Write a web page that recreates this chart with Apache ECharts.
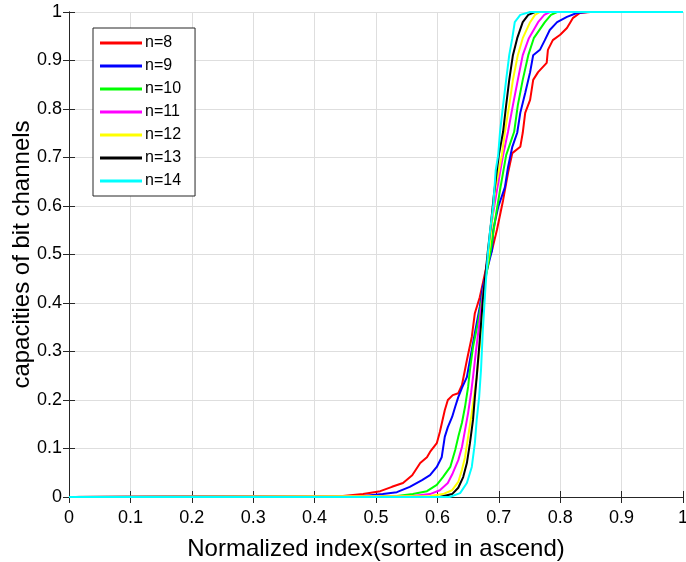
<!DOCTYPE html>
<html>
<head>
<meta charset="utf-8">
<script src="https://cdn.jsdelivr.net/npm/echarts@6/dist/echarts.min.js"></script>
<style>
  html, body { margin: 0; padding: 0; background: #fff; }
  #chart { width: 686px; height: 562px; }
</style>
</head>
<body>
<div id="chart"></div>
<script>
// values (x = normalized index, y = capacity)
var names = ['n=8', 'n=9', 'n=10', 'n=11', 'n=12', 'n=13', 'n=14'];
var colors = ['#ff0000', '#0000ff', '#00ff00', '#ff00ff', '#ffff00', '#000000', '#00ffff'];

var n8X = [0, 0.446, 0.479, 0.507, 0.526, 0.544, 0.559, 0.572, 0.583, 0.588, 0.599, 0.604, 0.612, 0.617, 0.625, 0.634, 0.640, 0.648, 0.656, 0.661, 0.669, 0.674, 0.681, 0.689, 0.697, 0.707, 0.715, 0.722, 0.735, 0.739, 0.743, 0.751, 0.756, 0.764, 0.778, 0.780, 0.788, 0.800, 0.811, 0.821, 0.832, 0.849, 1];
var n8Y = [0, 0.002, 0.006, 0.012, 0.021, 0.029, 0.045, 0.070, 0.082, 0.093, 0.111, 0.134, 0.179, 0.200, 0.210, 0.214, 0.231, 0.282, 0.330, 0.379, 0.412, 0.441, 0.482, 0.509, 0.551, 0.612, 0.668, 0.709, 0.722, 0.751, 0.792, 0.819, 0.860, 0.876, 0.895, 0.922, 0.942, 0.953, 0.967, 0.988, 0.998, 1, 1];

var n9X = [0, 0.479, 0.511, 0.534, 0.555, 0.575, 0.588, 0.599, 0.607, 0.612, 0.617, 0.624, 0.629, 0.634, 0.640, 0.648, 0.656, 0.661, 0.669, 0.674, 0.682, 0.689, 0.691, 0.699, 0.710, 0.715, 0.722, 0.730, 0.735, 0.743, 0.751, 0.756, 0.767, 0.775, 0.783, 0.795, 0.811, 0.827, 0.844, 1];
var n9Y = [0, 0.002, 0.006, 0.010, 0.021, 0.035, 0.045, 0.062, 0.082, 0.124, 0.144, 0.165, 0.186, 0.206, 0.225, 0.247, 0.303, 0.338, 0.392, 0.433, 0.474, 0.509, 0.551, 0.598, 0.639, 0.680, 0.722, 0.751, 0.792, 0.833, 0.876, 0.911, 0.922, 0.942, 0.963, 0.979, 0.990, 0.998, 1, 1];

var n10X = [0, 0.534, 0.560, 0.583, 0.599, 0.609, 0.621, 0.629, 0.634, 0.640, 0.645, 0.650, 0.653, 0.658, 0.666, 0.674, 0.681, 0.687, 0.694, 0.702, 0.712, 0.725, 0.731, 0.739, 0.748, 0.757, 0.775, 0.785, 0.795, 1];
var n10Y = [0, 0.002, 0.006, 0.012, 0.025, 0.041, 0.062, 0.097, 0.124, 0.153, 0.186, 0.227, 0.262, 0.309, 0.359, 0.421, 0.468, 0.509, 0.571, 0.633, 0.705, 0.753, 0.808, 0.860, 0.911, 0.946, 0.979, 0.994, 1, 1];

var n11X = [0, 0.560, 0.588, 0.604, 0.617, 0.625, 0.634, 0.640, 0.645, 0.650, 0.655, 0.658, 0.663, 0.668, 0.673, 0.678, 0.682, 0.689, 0.697, 0.707, 0.715, 0.723, 0.731, 0.739, 0.749, 0.764, 0.774, 0.783, 1];
var n11Y = [0, 0.002, 0.006, 0.014, 0.029, 0.049, 0.076, 0.103, 0.138, 0.173, 0.216, 0.247, 0.303, 0.355, 0.406, 0.454, 0.495, 0.571, 0.633, 0.705, 0.753, 0.808, 0.860, 0.911, 0.946, 0.979, 0.994, 1, 1];

var n12X = [0, 0.588, 0.609, 0.624, 0.634, 0.640, 0.645, 0.650, 0.656, 0.661, 0.664, 0.669, 0.674, 0.679, 0.684, 0.689, 0.694, 0.705, 0.710, 0.717, 0.723, 0.731, 0.739, 0.751, 0.759, 0.767, 1];
var n12Y = [0, 0.002, 0.006, 0.014, 0.031, 0.056, 0.082, 0.124, 0.173, 0.221, 0.247, 0.313, 0.396, 0.458, 0.505, 0.571, 0.633, 0.705, 0.753, 0.808, 0.860, 0.911, 0.946, 0.979, 0.994, 1, 1];

var n13X = [0, 0.604, 0.624, 0.634, 0.642, 0.648, 0.653, 0.658, 0.661, 0.664, 0.669, 0.674, 0.679, 0.682, 0.687, 0.692, 0.700, 0.707, 0.712, 0.717, 0.723, 0.730, 0.739, 0.748, 0.759, 1];
var n13Y = [0, 0, 0.006, 0.019, 0.041, 0.070, 0.111, 0.159, 0.206, 0.247, 0.324, 0.406, 0.468, 0.505, 0.561, 0.623, 0.705, 0.753, 0.808, 0.860, 0.911, 0.946, 0.979, 0.994, 1, 1];

var n14X = [0, 0.620, 0.637, 0.648, 0.656, 0.661, 0.664, 0.668, 0.671, 0.674, 0.678, 0.682, 0.686, 0.691, 0.695, 0.699, 0.702, 0.707, 0.712, 0.717, 0.722, 0.726, 0.735, 0.751, 1];
var n14Y = [0, 0, 0.008, 0.029, 0.062, 0.111, 0.159, 0.206, 0.262, 0.344, 0.427, 0.499, 0.551, 0.602, 0.674, 0.705, 0.753, 0.808, 0.860, 0.911, 0.946, 0.979, 0.994, 1, 1];

var seriesX = [n8X, n9X, n10X, n11X, n12X, n13X, n14X];
var seriesY = [n8Y, n9Y, n10Y, n11Y, n12Y, n13Y, n14Y];

function pairs(xs, ys) {
    var out = [];
    for (var i = 0; i < xs.length; i++) out.push([xs[i], ys[i]]);
    return out;
}

var font = 'Arial, "Liberation Sans", Helvetica, sans-serif';
var axisColor = '#262626';

var series = names.map(function (nm, i) {
    return {
        name: nm,
        type: 'line',
        data: pairs(seriesX[i], seriesY[i]),
        showSymbol: false,
        symbol: 'none',
        lineStyle: { color: colors[i], width: 2 },
        itemStyle: { color: colors[i] },
        animation: false
    };
});

var chart = echarts.init(document.getElementById('chart'));
chart.setOption({
    backgroundColor: '#fff',
    animation: false,
    color: colors,
    grid: { left: 69, right: 3, top: 12, bottom: 65, containLabel: false, outerBoundsMode: 'none' },
    legend: {
        orient: 'vertical',
        left: 93,
        top: 28,
        data: names,
        icon: 'rect',
        itemWidth: 42,
        itemHeight: 3,
        itemGap: 7,
        padding: [7, 14, 7, 7],
        backgroundColor: '#fff',
        borderColor: axisColor,
        borderWidth: 1,
        borderRadius: 0,
        textStyle: { fontFamily: font, fontSize: 16, color: '#000', lineHeight: 15, padding: [0, 0, 0, -2] }
    },
    xAxis: [{
        type: 'value',
        min: 0, max: 1, interval: 0.1,
        name: 'Normalized index(sorted in ascend)',
        nameLocation: 'middle',
        nameGap: 40,
        nameMoveOverlap: false,
        nameTextStyle: { fontFamily: font, fontSize: 24, color: '#000' },
        axisLine: { show: true, lineStyle: { color: axisColor, width: 1 } },
        axisTick: { show: true, inside: true, length: 6, lineStyle: { color: axisColor } },
        axisLabel: { fontFamily: font, fontSize: 18, color: '#000', margin: 12 },
        splitLine: { show: true, lineStyle: { color: '#dedede', width: 1 } }
    }, {
        type: 'value', position: 'top',
        min: 0, max: 1, interval: 0.1,
        axisLine: { show: true, lineStyle: { color: axisColor, width: 1 } },
        axisTick: { show: true, inside: true, length: 6, lineStyle: { color: axisColor } },
        axisLabel: { show: false },
        splitLine: { show: false }
    }],
    yAxis: [{
        type: 'value',
        min: 0, max: 1, interval: 0.1,
        name: 'capacities of bit channels',
        nameLocation: 'middle',
        nameGap: 47,
        nameMoveOverlap: false,
        nameRotate: 90,
        nameTextStyle: { fontFamily: font, fontSize: 24, color: '#000', verticalAlign: 'middle' },
        axisLine: { show: true, lineStyle: { color: axisColor, width: 1 } },
        axisTick: { show: true, inside: true, length: 6, lineStyle: { color: axisColor } },
        axisLabel: { fontFamily: font, fontSize: 18, color: '#000', margin: 7 },
        splitLine: { show: true, lineStyle: { color: '#dedede', width: 1 } }
    }, {
        type: 'value', position: 'right',
        min: 0, max: 1, interval: 0.1,
        axisLine: { show: true, lineStyle: { color: axisColor, width: 1 } },
        axisTick: { show: true, inside: true, length: 6, lineStyle: { color: axisColor } },
        axisLabel: { show: false },
        splitLine: { show: false }
    }],
    series: series
});
</script>
</body>
</html>
